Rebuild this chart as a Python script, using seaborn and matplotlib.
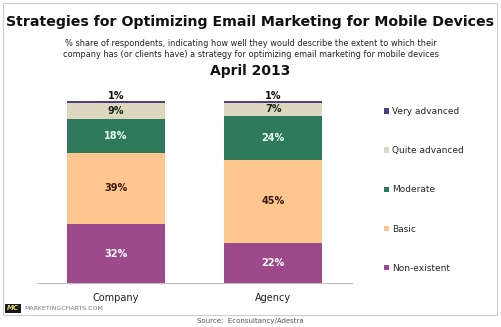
import matplotlib
matplotlib.use("Agg")
import matplotlib.pyplot as plt
import seaborn as sns
import numpy as np
from matplotlib.patches import Patch, Rectangle

categories = ["Company", "Agency"]
series_names = ["Non-existent", "Basic", "Moderate", "Quite advanced", "Very advanced"]
non_existent = [32, 22]
basic = [39, 45]
moderate = [18, 24]
quite_advanced = [9, 7]
very_advanced = [1, 1]
series_values = [non_existent, basic, moderate, quite_advanced, very_advanced]
colors = ["#9C4A8B", "#FFC68F", "#2F7A5C", "#DDD7BF", "#4A3E7C"]
label_colors = ["#ffffff", "#3a1a10", "#e6fff2", "#1a2a1a", "#111111"]

sns.set_style("white")
plt.rcParams['font.family'] = ['DejaVu Sans']

fig = plt.figure(figsize=(5.01, 3.27), dpi=100)
W, H = 501, 327
ax = fig.add_axes([37 / W, 1 - 283 / H, 315 / W, 183.8 / H])

vals = np.array(series_values, dtype=float)
cum = np.cumsum(vals, axis=0)
# draw from the tallest cumulative down so each layer covers the lower part
for i in range(len(series_names) - 1, -1, -1):
    sns.barplot(x=categories, y=cum[i], color=colors[i], width=0.62,
                saturation=1, ax=ax, linewidth=0)

ax.set_xlim(-0.5, 1.5)
ax.set_ylim(0, 100)
for s in ["top", "right", "left"]:
    ax.spines[s].set_visible(False)
ax.spines["bottom"].set_color("#bbbbbb")
ax.spines["bottom"].set_linewidth(0.8)
ax.set_yticks([])
ax.set_xticks([0, 1])
ax.set_xticklabels(categories, fontsize=7, color="#222222")
ax.tick_params(axis="x", length=0, pad=7)
ax.set_xticks([-0.5, 0.5, 1.5], minor=True)
ax.tick_params(axis="x", which="minor", length=3, color="#bbbbbb", direction="out")
ax.set_xlabel("")
ax.set_ylabel("")

# segment labels
for i in range(len(series_names)):
    for j in range(len(categories)):
        v = vals[i, j]
        if i == len(series_names) - 1:
            y = cum[i, j] + 2.8
        else:
            y = cum[i, j] - v / 2
        ax.text(j, y, f"{int(v)}%", ha="center", va="center", fontsize=7,
                fontweight="bold", color=label_colors[i])

# legend
handles = [Patch(facecolor=colors[i], edgecolor="none", label=series_names[i])
           for i in range(len(series_names) - 1, -1, -1)]
fig.legend(handles=handles, loc="upper left", bbox_to_anchor=(384 / W, 1 - 107 / H),
           frameon=False, fontsize=6.5, handlelength=0.55, handleheight=0.55,
           handletextpad=0.35, labelspacing=3.35, borderaxespad=0, borderpad=0)

# frame
fig.patches.append(Rectangle((3 / W, 1 - 315 / H), 494 / W, 312 / H,
                             transform=fig.transFigure, fill=False,
                             edgecolor="#cccccc", linewidth=0.8))

fig.text(0.5, 1 - 22 / H, "Strategies for Optimizing Email Marketing for Mobile Devices",
         ha="center", va="center", fontsize=10.2, fontweight="bold", color="#111111")
fig.text(0.5, 1 - 49 / H,
         "% share of respondents, indicating how well they would describe the extent to which their\n"
         "company has (or clients have) a strategy for optimizing email marketing for mobile devices",
         ha="center", va="center", fontsize=5.9, color="#222222", linespacing=1.3)
fig.text(0.5, 1 - 71 / H, "April 2013", ha="center", va="center", fontsize=10,
         fontweight="bold", color="#111111")

# logo + source
fig.patches.append(Rectangle((5 / W, 1 - 313 / H), 16 / W, 9 / H,
                             transform=fig.transFigure, facecolor="#1a1a1a",
                             edgecolor="none"))
fig.text(13 / W, 1 - 308.5 / H, "MC", ha="center", va="center", fontsize=5,
         fontweight="bold", color="#d8d070", style="italic")
fig.text(24 / W, 1 - 308.5 / H, "MARKETINGCHARTS.COM", ha="left", va="center",
         fontsize=4.5, color="#777777")
fig.text(0.5, 1 - 321 / H, "Source:  Econsultancy/Adestra", ha="center", va="center",
         fontsize=5, color="#555555")

fig.savefig("out.png", dpi=100)
